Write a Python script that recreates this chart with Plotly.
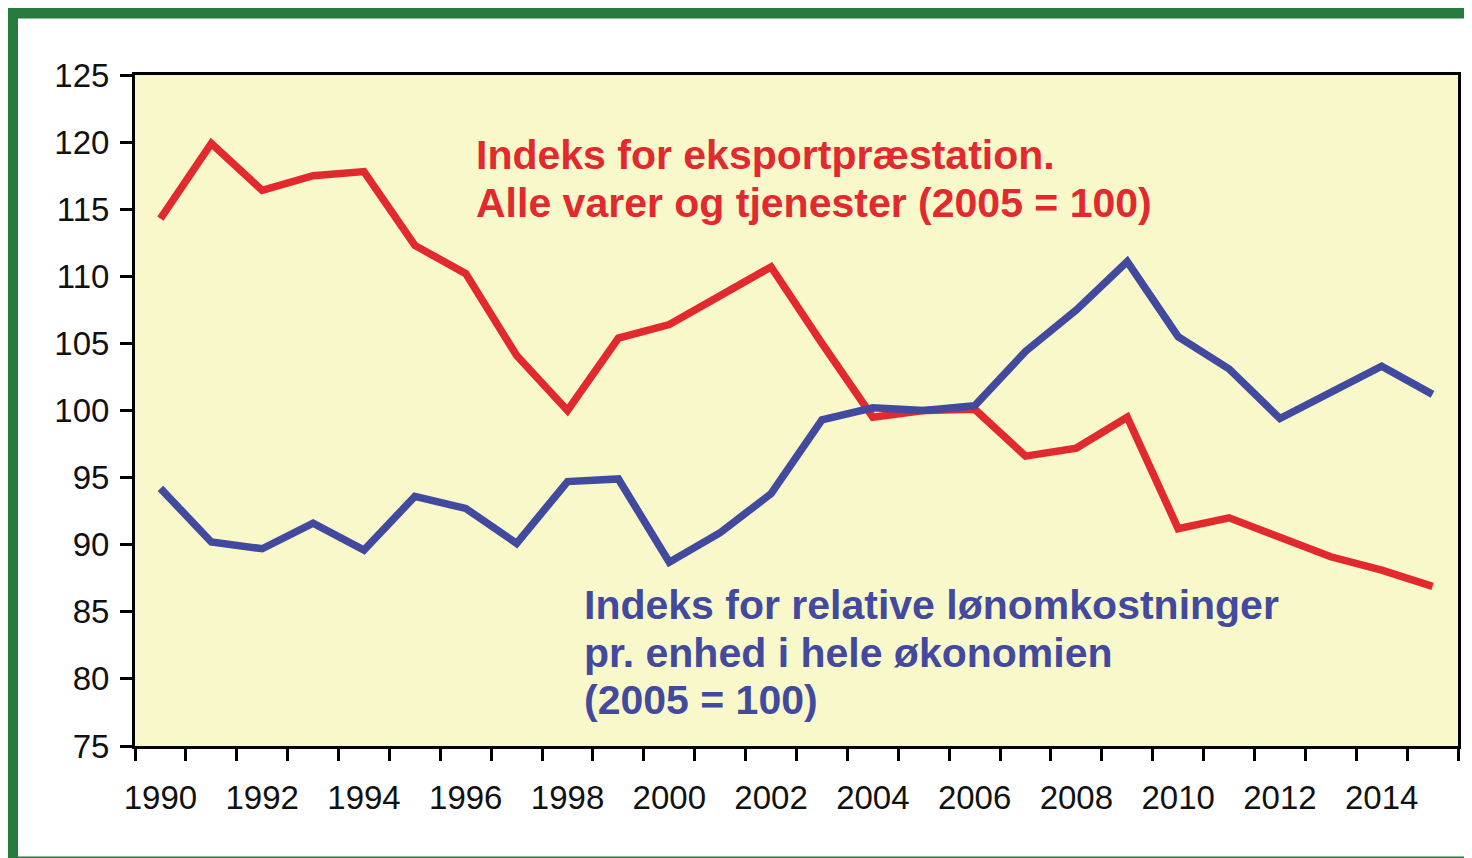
import plotly.graph_objects as go

# data
years = list(range(1990, 2016))
eksport = [114.3, 119.9, 116.4, 117.5, 117.8, 112.3, 110.2, 104.1, 100.0, 105.4,
           106.4, 108.6, 110.7, 105.0, 99.5, 100.0, 100.1, 96.6, 97.2, 99.5,
           91.2, 92.0, 90.5, 89.1, 88.1, 86.9]
loen = [94.2, 90.2, 89.7, 91.6, 89.6, 93.6, 92.7, 90.1, 94.7, 94.9,
        88.7, 90.9, 93.8, 99.3, 100.2, 100.0, 100.35, 104.4, 107.5, 111.1,
        105.5, 103.1, 99.4, 101.4, 103.3, 101.2]
xlabels = [str(y) for y in range(1990, 2015, 2)]
red_text = ["Indeks for eksportpræstation.", "Alle varer og tjenester (2005 = 100)"]
blue_text = ["Indeks for relative lønomkostninger", "pr. enhed i hele økonomien", "(2005 = 100)"]

RED = "#E2292E"
BLUE = "#424AA0"
FONT = "Liberation Sans, Arial, sans-serif"

# page has an 8px body margin, so the figure is a bit smaller than the window
OFF = 8
W, H = 1472 - OFF, 858 - OFF
# plot area in page pixels
PL, PR, PT, PB = 135, 1458, 75, 746
ML, MT = PL - OFF, PT - OFF
MR, MB = W - (PR - OFF), H - (PB - OFF)
pw, ph = PR - PL, PB - PT


def px_x(px):
    return (px - PL) / pw


def px_y(py):
    return (PB - py) / ph


fig = go.Figure()
fig.add_trace(go.Scatter(x=years, y=eksport, mode="lines",
                         line=dict(color=RED, width=7.5)))
fig.add_trace(go.Scatter(x=years, y=loen, mode="lines",
                         line=dict(color=BLUE, width=7.5)))

# labels, one annotation per line
for i, t in enumerate(red_text):
    fig.add_annotation(text=t, xref="paper", yref="paper", x=px_x(474), y=px_y(155 + 48 * i),
                       xanchor="left", yanchor="middle", showarrow=False,
                       font=dict(family=FONT, size=41, color=RED, weight="bold"))
for i, t in enumerate(blue_text):
    fig.add_annotation(text=t, xref="paper", yref="paper", x=px_x(582), y=px_y(605 + 47.5 * i),
                       xanchor="left", yanchor="middle", showarrow=False,
                       font=dict(family=FONT, size=41, color=BLUE, weight="bold"))

# green frame
fig.add_shape(type="rect", xref="paper", yref="paper",
              x0=px_x(12.5), x1=px_x(1495), y0=px_y(13), y1=px_y(862),
              line=dict(color="#267A3E", width=11), layer="below")

fig.update_xaxes(range=[1989.5, 2015.5], tickvals=list(range(1990, 2015, 2)), ticktext=xlabels,
                 ticks="", showgrid=False, zeroline=False,
                 showline=True, linecolor="black", linewidth=3, mirror=True,
                 ticklabelstandoff=20,
                 minor=dict(tick0=1989.5, dtick=1, ticks="outside", ticklen=12,
                            tickwidth=3, tickcolor="black", showgrid=False),
                 tickfont=dict(family=FONT, size=33, color="#111"))
fig.update_yaxes(range=[75, 125], dtick=5, ticks="outside", ticklen=12, tickwidth=3,
                 tickcolor="black", showgrid=False, zeroline=False,
                 showline=True, linecolor="black", linewidth=3, mirror=True,
                 ticklabelstandoff=4,
                 tickfont=dict(family=FONT, size=33, color="#111"))

fig.update_layout(width=W, height=H, showlegend=False,
                  margin=dict(l=ML, r=MR, t=MT, b=MB),
                  plot_bgcolor="#F8F8CB", paper_bgcolor="white")

fig.write_html("out.html")
